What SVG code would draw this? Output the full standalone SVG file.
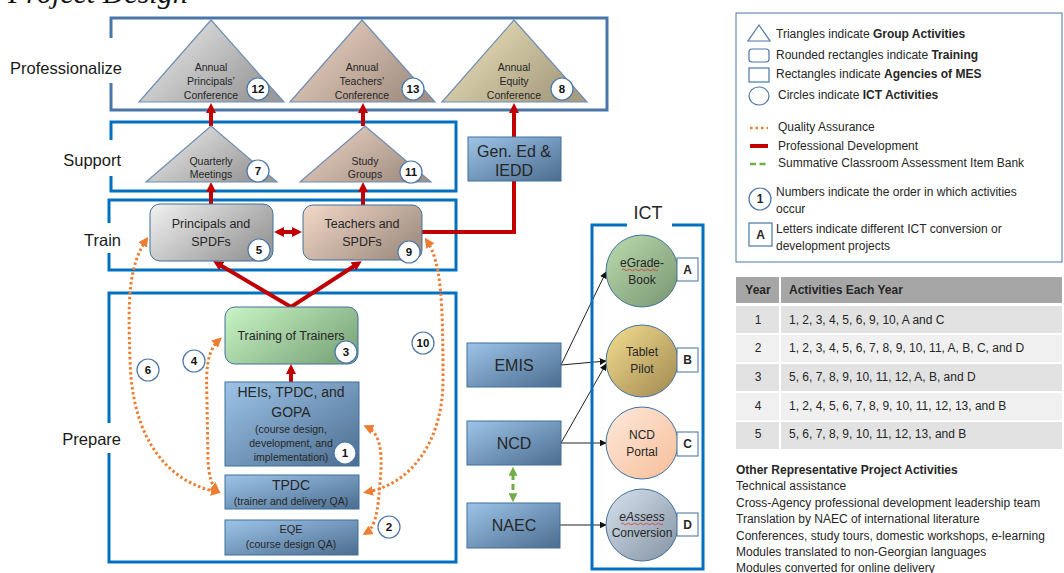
<svg xmlns="http://www.w3.org/2000/svg" width="1064" height="573" viewBox="0 0 1064 573">
<defs>
<style>
text{font-family:"Liberation Sans",Arial,sans-serif;fill:#262626}
.lbl{font-size:16.5px;text-anchor:end;fill:#1a1a1a}
.tri{font-size:10.5px;text-anchor:middle}
.c{text-anchor:middle}
.b{font-weight:bold}
.badge circle{fill:#fff;stroke:#4a76a8;stroke-width:1.2}
.badge text{font-size:11.5px;font-weight:bold;text-anchor:middle;fill:#111}
.region{fill:none;stroke:#0070c0;stroke-width:3}
.agency{stroke:#41719c;stroke-width:1}
.pd{fill:none;stroke:#c00000;stroke-width:4}
.qa{fill:none;stroke:#ed7d31;stroke-width:3;stroke-dasharray:2.5 2.5}
.ict{fill:none;stroke:#222;stroke-width:1}
.leg{font-size:12px}
.tbl{font-size:12px}
</style>
<linearGradient id="gGrey" x1="0" y1="0" x2="1" y2="0.6"><stop offset="0" stop-color="#f2f2f2"/><stop offset="1" stop-color="#9a9a9a"/></linearGradient>
<linearGradient id="gPeach" x1="0" y1="0" x2="1" y2="0.6"><stop offset="0" stop-color="#f3d9c8"/><stop offset="1" stop-color="#a49184"/></linearGradient>
<linearGradient id="gYel" x1="0" y1="0" x2="1" y2="0.6"><stop offset="0" stop-color="#f4e9c0"/><stop offset="1" stop-color="#a79d80"/></linearGradient>
<linearGradient id="gBlue" x1="0" y1="0" x2="1" y2="1"><stop offset="0" stop-color="#9dc4e8"/><stop offset="1" stop-color="#4b6d8f"/></linearGradient>
<linearGradient id="gGreen" x1="0" y1="0" x2="1" y2="0.6"><stop offset="0" stop-color="#c9f5c6"/><stop offset="1" stop-color="#80ab7f"/></linearGradient>
<linearGradient id="cGreen" x1="0" y1="0" x2="1" y2="1"><stop offset="0" stop-color="#bcdcaf"/><stop offset="1" stop-color="#779570"/></linearGradient>
<linearGradient id="cYel" x1="0" y1="0" x2="1" y2="1"><stop offset="0" stop-color="#f4de90"/><stop offset="1" stop-color="#a08850"/></linearGradient>
<linearGradient id="cPeach" x1="0" y1="0" x2="1" y2="1"><stop offset="0" stop-color="#fde9dc"/><stop offset="1" stop-color="#f7be98"/></linearGradient>
<linearGradient id="cSlate" x1="0" y1="0" x2="1" y2="1"><stop offset="0" stop-color="#d7e2ee"/><stop offset="1" stop-color="#8392a2"/></linearGradient>
<marker id="aR" viewBox="0 0 10 10" refX="2" refY="5" markerWidth="10" markerHeight="10" markerUnits="userSpaceOnUse" orient="auto-start-reverse"><path d="M0,0 L10,5 L0,10 z" fill="#c00000"/></marker>
<marker id="aO" viewBox="0 0 10 10" refX="6" refY="5" markerWidth="10" markerHeight="10" markerUnits="userSpaceOnUse" orient="auto-start-reverse"><path d="M0,0 L10,5 L0,10 z" fill="#ed7d31"/></marker>
<marker id="aG" viewBox="0 0 10 10" refX="2" refY="5" markerWidth="9" markerHeight="9" markerUnits="userSpaceOnUse" orient="auto-start-reverse"><path d="M0,0 L10,5 L0,10 z" fill="#70ad47"/></marker>
<marker id="aK" viewBox="0 0 10 10" refX="9" refY="5" markerWidth="7" markerHeight="7" markerUnits="userSpaceOnUse" orient="auto"><path d="M0,0 L10,5 L0,10 z" fill="#111"/></marker>
</defs>
<rect width="1064" height="573" fill="#fff"/>

<text x="8" y="3" style="font-family:'Liberation Serif',serif;font-style:italic;font-size:30px;fill:#111">Project Design</text>

<!-- regions -->
<g id="regions">
<rect x="111" y="18" width="496" height="92" fill="none" stroke="#4a76a8" stroke-width="3"/>
<rect class="region" x="111" y="122" width="345" height="69"/>
<rect class="region" x="109" y="200" width="347" height="70"/>
<rect class="region" x="109" y="293" width="347" height="269"/>
<rect x="100" y="38" width="25" height="45" fill="#fff"/>
<rect x="100" y="140" width="25" height="36" fill="#fff"/>
<rect x="100" y="223" width="25" height="30" fill="#fff"/>
<rect x="100" y="423" width="25" height="30" fill="#fff"/>
<text class="lbl" x="122" y="74">Professionalize</text>
<text class="lbl" x="121" y="166">Support</text>
<text class="lbl" x="121" y="246">Train</text>
<text class="lbl" x="121" y="445">Prepare</text>
</g>

<!-- connectors -->
<g id="connectors">
<line class="pd" x1="211" y1="126" x2="211" y2="111" marker-end="url(#aR)"/>
<line class="pd" x1="363" y1="126" x2="363" y2="111" marker-end="url(#aR)"/>
<line class="pd" x1="514" y1="137" x2="514" y2="111" marker-end="url(#aR)"/>
<line class="pd" x1="211" y1="204" x2="211" y2="190" marker-end="url(#aR)"/>
<line class="pd" x1="363" y1="205" x2="363" y2="190" marker-end="url(#aR)"/>
<polyline class="pd" points="514,181 514,232 422,232"/>
<line class="pd" x1="282" y1="232" x2="294" y2="232" marker-start="url(#aR)" marker-end="url(#aR)"/>
<polyline class="pd" points="220,265 291,307 355,265.5" marker-start="url(#aR)" marker-end="url(#aR)"/>
<line class="pd" x1="291" y1="382" x2="291" y2="372" marker-end="url(#aR)"/>

<path class="qa" d="M146,240 C128,268 128,300 130,360 C132,440 168,482 217,492" marker-start="url(#aO)" marker-end="url(#aO)"/>
<path class="qa" d="M219,340 C206,352 206,372 207,400 L208,460 C209,478 212,486 217,490" marker-start="url(#aO)" marker-end="url(#aO)"/>
<path class="qa" d="M427,241 C441,262 443,300 443,380 C443,440 412,484 367,492" marker-start="url(#aO)" marker-end="url(#aO)"/>
<path class="qa" d="M367,427 C386,436 381,470 379,495 C377,516 374,528 366,533" marker-start="url(#aO)" marker-end="url(#aO)"/>

<line class="ict" x1="561" y1="365" x2="606" y2="272" marker-end="url(#aK)"/>
<line class="ict" x1="561" y1="365" x2="606" y2="361" marker-end="url(#aK)"/>
<line class="ict" x1="561" y1="443" x2="606" y2="364" marker-end="url(#aK)"/>
<line class="ict" x1="561" y1="443" x2="606" y2="443" marker-end="url(#aK)"/>
<line class="ict" x1="560" y1="525" x2="606" y2="525" marker-end="url(#aK)"/>

<line x1="513" y1="474" x2="513" y2="495" stroke="#70ad47" stroke-width="3" stroke-dasharray="6 4" marker-start="url(#aG)" marker-end="url(#aG)"/>
</g>

<!-- triangles -->
<g id="n12">
<polygon points="211,20 284,102 139,102" fill="url(#gGrey)" stroke="#6f8fb5" stroke-width="1.2"/>
<text class="tri" x="211" y="71">Annual</text><text class="tri" x="211" y="85">Principals’</text><text class="tri" x="211" y="99">Conference</text>
<g class="badge"><circle cx="258" cy="89" r="11"/><text x="258" y="93">12</text></g>
</g>
<g id="n13">
<polygon points="362,20 435,102 290,102" fill="url(#gPeach)" stroke="#6f8fb5" stroke-width="1.2"/>
<text class="tri" x="362" y="71">Annual</text><text class="tri" x="362" y="85">Teachers’</text><text class="tri" x="362" y="99">Conference</text>
<g class="badge"><circle cx="413" cy="89" r="11"/><text x="413" y="93">13</text></g>
</g>
<g id="n8">
<polygon points="514,20 587,102 442,102" fill="url(#gYel)" stroke="#6f8fb5" stroke-width="1.2"/>
<text class="tri" x="514" y="71">Annual</text><text class="tri" x="514" y="85">Equity</text><text class="tri" x="514" y="99">Conference</text>
<g class="badge"><circle cx="562" cy="89" r="11"/><text x="562" y="93">8</text></g>
</g>
<g id="n7">
<polygon points="211,126 277,182 146,182" fill="url(#gGrey)" stroke="#6f8fb5" stroke-width="1.2"/>
<text class="tri" x="211" y="165">Quarterly</text><text class="tri" x="211" y="178">Meetings</text>
<g class="badge"><circle cx="258" cy="171" r="11"/><text x="258" y="175">7</text></g>
</g>
<g id="n11">
<polygon points="365,126 431,182 300,182" fill="url(#gPeach)" stroke="#6f8fb5" stroke-width="1.2"/>
<text class="tri" x="365" y="165">Study</text><text class="tri" x="365" y="178">Groups</text>
<g class="badge"><circle cx="411" cy="172" r="11"/><text x="411" y="176">11</text></g>
</g>

<!-- Gen Ed -->
<g id="gened">
<rect class="agency" x="468" y="137" width="93" height="44" fill="url(#gBlue)"/>
<text class="c" x="514" y="157" style="font-size:16px">Gen. Ed &amp;</text><text class="c" x="514" y="176" style="font-size:16px">IEDD</text>
</g>

<!-- Train -->
<g id="n5">
<rect x="150" y="204" width="123" height="57" rx="10" fill="url(#gGrey)" stroke="#41719c" stroke-width="1"/>
<text class="c" x="211" y="228" style="font-size:12.5px">Principals and</text><text class="c" x="211" y="246" style="font-size:12.5px">SPDFs</text>
<g class="badge"><circle cx="259" cy="250" r="11"/><text x="259" y="254">5</text></g>
</g>
<g id="n9">
<rect x="303" y="205" width="119" height="55" rx="10" fill="url(#gPeach)" stroke="#41719c" stroke-width="1"/>
<text class="c" x="362" y="228" style="font-size:12.5px">Teachers and</text><text class="c" x="362" y="246" style="font-size:12.5px">SPDFs</text>
<g class="badge"><circle cx="409" cy="252" r="11"/><text x="409" y="256">9</text></g>
</g>

<!-- Prepare -->
<g id="n3">
<rect x="225" y="307" width="133" height="57" rx="10" fill="url(#gGreen)" stroke="#41719c" stroke-width="1"/>
<text class="c" x="291" y="340" style="font-size:12.5px">Training of Trainers</text>
<g class="badge"><circle cx="346" cy="352" r="11"/><text x="346" y="356">3</text></g>
</g>
<g id="n1">
<rect class="agency" x="225" y="382" width="134" height="84" fill="url(#gBlue)"/>
<text class="c" x="291" y="397" style="font-size:14px">HEIs, TPDC, and</text>
<text class="c" x="291" y="417" style="font-size:14px">GOPA</text>
<text class="c" x="291" y="433" style="font-size:10.5px">(course design,</text>
<text class="c" x="291" y="447" style="font-size:10.5px">development, and</text>
<text class="c" x="291" y="461" style="font-size:10.5px">implementation)</text>
<g class="badge"><circle cx="345" cy="453" r="11"/><text x="345" y="457">1</text></g>
</g>
<g id="tpdc">
<rect class="agency" x="225" y="475" width="134" height="34" fill="url(#gBlue)"/>
<text class="c" x="291" y="490" style="font-size:14px">TPDC</text>
<text class="c" x="291" y="505" style="font-size:10.5px">(trainer and delivery QA)</text>
</g>
<g id="eqe">
<rect class="agency" x="225" y="520" width="133" height="35" fill="url(#gBlue)"/>
<text class="c" x="291" y="533" style="font-size:11px">EQE</text>
<text class="c" x="291" y="548" style="font-size:10.5px">(course design QA)</text>
</g>
<g id="b2" class="badge"><circle cx="389" cy="527" r="11"/><text x="389" y="531">2</text></g>
<g id="b4" class="badge"><circle cx="194" cy="361" r="11"/><text x="194" y="365">4</text></g>
<g id="b6" class="badge"><circle cx="148" cy="370" r="11"/><text x="148" y="374">6</text></g>
<g id="b10" class="badge"><circle cx="423" cy="343" r="11"/><text x="423" y="347">10</text></g>

<!-- agencies -->
<g id="emis"><rect class="agency" x="467" y="343" width="94" height="44" fill="url(#gBlue)"/><text class="c" x="514" y="371" style="font-size:16px">EMIS</text></g>
<g id="ncd"><rect class="agency" x="467" y="421" width="94" height="44" fill="url(#gBlue)"/><text class="c" x="514" y="449" style="font-size:16px">NCD</text></g>
<g id="naec"><rect class="agency" x="467" y="503" width="93" height="45" fill="url(#gBlue)"/><text class="c" x="514" y="531" style="font-size:16px">NAEC</text></g>

<!-- ICT -->
<g id="ict">
<path d="M627,225 L592,225 L592,569 L703,569 L703,225 L672,225" fill="none" stroke="#0070c0" stroke-width="3"/>
<text class="c" x="648" y="219" style="font-size:18px">ICT</text>
</g>
<g id="cA">
<circle cx="642" cy="271" r="36" fill="url(#cGreen)" stroke="#41719c" stroke-width="1"/>
<text class="c" x="642" y="267" style="font-size:12px">eGrade-</text><text class="c" x="642" y="284" style="font-size:12px">Book</text>
<path d="M622,270 q1.5,-1.5 3,0 t3,0 t3,0 t3,0 t3,0 t3,0 t3,0 t3,0 t3,0 t3,0 t3,0 t3,0" fill="none" stroke="#e03030" stroke-width="0.8"/>
<rect x="677" y="258" width="21" height="23" fill="#fff" stroke="#41719c" stroke-width="1"/><text class="c b" x="687.5" y="274" style="font-size:12px">A</text>
</g>
<g id="cB">
<circle cx="642" cy="361" r="36" fill="url(#cYel)" stroke="#41719c" stroke-width="1"/>
<text class="c" x="642" y="356" style="font-size:12px">Tablet</text><text class="c" x="642" y="373" style="font-size:12px">Pilot</text>
<rect x="677" y="348" width="21" height="24" fill="#fff" stroke="#41719c" stroke-width="1"/><text class="c b" x="687.5" y="364" style="font-size:12px">B</text>
</g>
<g id="cC">
<circle cx="642" cy="443" r="36" fill="url(#cPeach)" stroke="#41719c" stroke-width="1"/>
<text class="c" x="642" y="439" style="font-size:12px">NCD</text><text class="c" x="642" y="456" style="font-size:12px">Portal</text>
<rect x="677" y="432" width="21" height="24" fill="#fff" stroke="#41719c" stroke-width="1"/><text class="c b" x="687.5" y="448" style="font-size:12px">C</text>
</g>
<g id="cD">
<circle cx="642" cy="525" r="36" fill="url(#cSlate)" stroke="#41719c" stroke-width="1"/>
<text class="c" x="642" y="521" style="font-size:12px;font-style:italic">eAssess</text><text class="c" x="642" y="537" style="font-size:12px">Conversion</text>
<path d="M621,524 q1.5,-1.5 3,0 t3,0 t3,0 t3,0 t3,0 t3,0 t3,0 t3,0 t3,0 t3,0 t3,0 t3,0 t3,0 t3,0" fill="none" stroke="#e03030" stroke-width="0.8"/>
<rect x="677" y="513" width="21" height="23" fill="#fff" stroke="#41719c" stroke-width="1"/><text class="c b" x="687.5" y="529" style="font-size:12px">D</text>
</g>

<!-- legend -->
<g id="legend">
<rect x="736" y="13" width="326" height="249" fill="#fff" stroke="#4a76a8" stroke-width="1"/>
<polygon points="759,25 770,41 748,41" fill="none" stroke="#4a76a8" stroke-width="1.2"/>
<text class="leg" x="776" y="38">Triangles indicate <tspan class="b">Group Activities</tspan></text>
<rect x="749" y="49" width="20" height="13" rx="3" fill="none" stroke="#4a76a8" stroke-width="1.2"/>
<text class="leg" x="776" y="59">Rounded rectangles indicate <tspan class="b">Training</tspan></text>
<rect x="749" y="68" width="20" height="14" fill="none" stroke="#4a76a8" stroke-width="1.2"/>
<text class="leg" x="776" y="78">Rectangles indicate <tspan class="b">Agencies of MES</tspan></text>
<ellipse cx="759" cy="96" rx="10" ry="9" fill="none" stroke="#4a76a8" stroke-width="1.2"/>
<text class="leg" x="778" y="99">Circles indicate <tspan class="b">ICT Activities</tspan></text>
<line x1="750" y1="128" x2="768" y2="128" stroke="#ed7d31" stroke-width="2.5" stroke-dasharray="2.5 3"/>
<text class="leg" x="778" y="131">Quality Assurance</text>
<line x1="750" y1="146" x2="768" y2="146" stroke="#c00000" stroke-width="4"/>
<text class="leg" x="778" y="150">Professional Development</text>
<line x1="750" y1="164" x2="768" y2="164" stroke="#70ad47" stroke-width="2.5" stroke-dasharray="6 3.5"/>
<text class="leg" x="778" y="167">Summative Classroom Assessment Item Bank</text>
<circle cx="760" cy="199" r="11" fill="#fff" stroke="#4a76a8" stroke-width="1.2"/>
<text class="c b" x="760" y="203" style="font-size:12px">1</text>
<text class="leg" x="776" y="196">Numbers indicate the order in which activities</text>
<text class="leg" x="776" y="213">occur</text>
<rect x="749" y="223" width="23" height="23" fill="#fff" stroke="#4a76a8" stroke-width="1.2"/>
<text class="c b" x="760.5" y="239" style="font-size:12px">A</text>
<text class="leg" x="776" y="233">Letters indicate different ICT conversion or</text>
<text class="leg" x="776" y="250">development projects</text>
</g>

<!-- table -->
<g id="table">
<rect x="736" y="277" width="326" height="26" fill="#a6a6a6"/>
<rect x="736" y="306" width="326" height="27" fill="#e2e2e2"/>
<rect x="736" y="335" width="326" height="27" fill="#f0f0f0"/>
<rect x="736" y="364" width="326" height="27" fill="#e2e2e2"/>
<rect x="736" y="393" width="326" height="27" fill="#f0f0f0"/>
<rect x="736" y="422" width="326" height="27" fill="#e2e2e2"/>
<line x1="780" y1="277" x2="780" y2="449" stroke="#fff" stroke-width="2"/>
<text class="tbl c b" x="758" y="294">Year</text>
<text class="tbl b" x="789" y="294">Activities Each Year</text>
<text class="tbl c" x="758" y="324">1</text><text class="tbl" x="789" y="324">1, 2, 3, 4, 5, 6, 9, 10, A and C</text>
<text class="tbl c" x="758" y="352">2</text><text class="tbl" x="789" y="352">1, 2, 3, 4, 5, 6, 7, 8, 9, 10, 11, A, B, C, and D</text>
<text class="tbl c" x="758" y="381">3</text><text class="tbl" x="789" y="381">5, 6, 7, 8, 9, 10, 11, 12, A, B, and D</text>
<text class="tbl c" x="758" y="410">4</text><text class="tbl" x="789" y="410">1, 2, 4, 5, 6, 7, 8, 9, 10, 11, 12, 13, and B</text>
<text class="tbl c" x="758" y="438">5</text><text class="tbl" x="789" y="438">5, 6, 7, 8, 9, 10, 11, 12, 13, and B</text>
</g>

<g id="other">
<text class="tbl b" x="736" y="474">Other Representative Project Activities</text>
<text class="tbl" x="736" y="490">Technical assistance</text>
<text class="tbl" x="736" y="507">Cross-Agency professional development leadership team</text>
<text class="tbl" x="736" y="523">Translation by NAEC of international literature</text>
<text class="tbl" x="736" y="540">Conferences, study tours, domestic workshops, e-learning</text>
<text class="tbl" x="736" y="556">Modules translated to non-Georgian languages</text>
<text class="tbl" x="736" y="572">Modules converted for online delivery</text>
</g>
</svg>
